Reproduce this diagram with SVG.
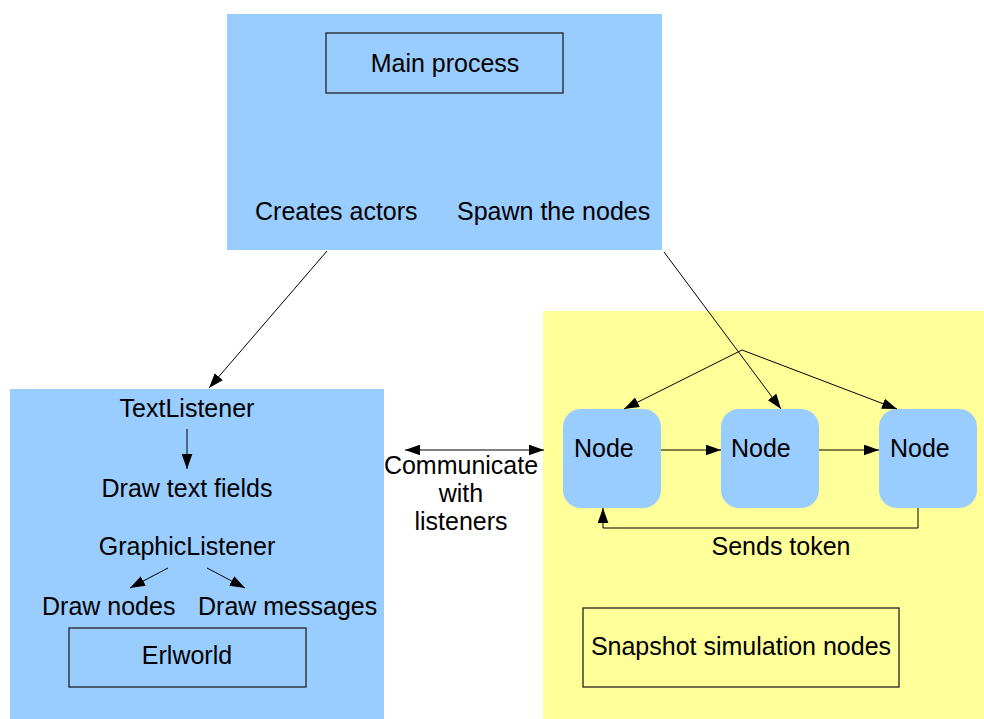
<svg xmlns="http://www.w3.org/2000/svg" width="984" height="719" viewBox="0 0 984 719">
<defs>
<style>
text{font-family:"Liberation Sans",Arial,sans-serif;font-size:25px;fill:#000}
.c{text-anchor:middle}
.blue{fill:#99ccff}
.yellow{fill:#ffff99}
.box{fill:none;stroke:#222;stroke-width:1.3}
.ln{fill:none;stroke:#000;stroke-width:1}
</style>
<marker id="ah" viewBox="0 0 14 10" refX="14" refY="5" markerWidth="15" markerHeight="11" markerUnits="userSpaceOnUse" orient="auto-start-reverse">
<path d="M0,0 L14,5 L0,10 z" fill="#000"/>
</marker>
</defs>
<rect width="984" height="719" fill="#fff"/>
<g id="main">
<rect class="blue" x="227" y="14" width="435" height="236"/>
<rect class="box" x="326" y="33" width="237" height="60"/>
<text class="c" x="445" y="72">Main process</text>
<text x="255" y="220">Creates actors</text>
<text x="457" y="220">Spawn the nodes</text>
</g>
<g id="listeners">
<rect class="blue" x="10" y="389" width="374" height="330"/>
<text class="c" x="187" y="417">TextListener</text>
<text class="c" x="187" y="497">Draw text fields</text>
<text class="c" x="187" y="555">GraphicListener</text>
<text x="42" y="615">Draw nodes</text>
<text x="198" y="615">Draw messages</text>
<rect class="box" x="69" y="628" width="237" height="59"/>
<text class="c" x="187" y="664">Erlworld</text>
</g>
<g id="simulation">
<rect class="yellow" x="543" y="311" width="441" height="408"/>
<rect class="box" x="583" y="608" width="316" height="79"/>
<text class="c" x="741" y="655">Snapshot simulation nodes</text>
</g>
<g id="node1">
<rect class="blue" x="563" y="409" width="98" height="99" rx="18"/>
<text x="574" y="457">Node</text>
</g>
<g id="node2">
<rect class="blue" x="721" y="409" width="98" height="99" rx="18"/>
<text x="731" y="457">Node</text>
</g>
<g id="node3">
<rect class="blue" x="879" y="409" width="98" height="99" rx="18"/>
<text x="890" y="457">Node</text>
</g>
<g id="connectors">
<line class="ln" x1="327" y1="251" x2="209" y2="388" marker-end="url(#ah)"/>
<line class="ln" x1="664" y1="252" x2="781" y2="409" marker-end="url(#ah)"/>
<line class="ln" x1="742" y1="350" x2="624" y2="409" marker-end="url(#ah)"/>
<line class="ln" x1="742" y1="350" x2="897" y2="409" marker-end="url(#ah)"/>
<line class="ln" x1="661" y1="450" x2="721" y2="450" marker-end="url(#ah)"/>
<line class="ln" x1="819" y1="450" x2="879" y2="450" marker-end="url(#ah)"/>
<polyline class="ln" points="918,508 918,528 603,528 603,508" marker-end="url(#ah)"/>
<line class="ln" x1="405" y1="450" x2="544" y2="450" marker-start="url(#ah)" marker-end="url(#ah)"/>
<line class="ln" x1="187" y1="429" x2="187" y2="469" marker-end="url(#ah)"/>
<line class="ln" x1="168" y1="568" x2="130" y2="588" marker-end="url(#ah)"/>
<line class="ln" x1="207" y1="568" x2="245" y2="588" marker-end="url(#ah)"/>
<text class="c" x="461" y="474">Communicate</text>
<text class="c" x="461" y="502">with</text>
<text class="c" x="461" y="530">listeners</text>
<text class="c" x="781" y="555">Sends token</text>
</g>
</svg>
